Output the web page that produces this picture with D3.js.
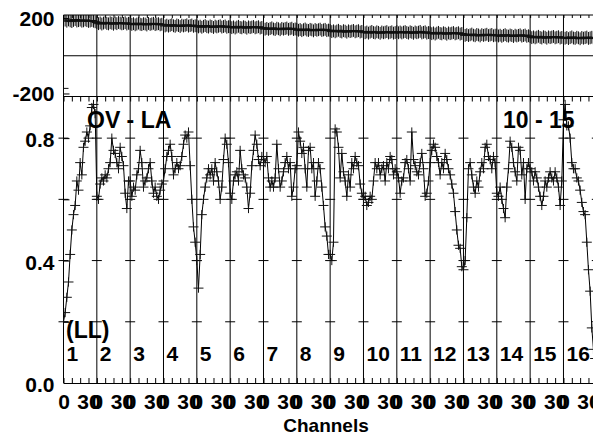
<!DOCTYPE html>
<html><head><meta charset="utf-8">
<script src="https://cdn.jsdelivr.net/npm/d3@7"></script>
<style>
html,body{margin:0;padding:0;background:#fff;}
svg{display:block;}
text{font-family:"Liberation Sans",Arial,Helvetica,sans-serif;font-weight:bold;fill:#000;}
</style></head>
<body>
<svg id="chart" width="593" height="437"></svg>
<script>
// ---------- DATA ----------
const ifLabels = ["1","2","3","4","5","6","7","8","9","10","11","12","13","14","15","16"];
const channelsPerIF = 40;
const channels = [0,2,4,6,8,10,12,14,16,18,20,22,24,26,28,30,32,34,36,38];
const xTickChannels = [0,10,20,30];
const xTickLabels = {0:"0",30:"30"};
const phaseTicks = [-200,200];
const ampTicks = [0,0.2,0.4,0.6,0.8];
const ampLabelled = [0,0.4,0.8];
const baselineName = "OV - LA";
const timeLabel = "10 - 15";
const polLabel = "(LL)";
const xTitle = "Channels";
const ampErr = 0.015;
const phaseErr = 34;

const ampIF1  = [0.20,0.23,0.28,0.33,0.42,0.50,0.55,0.58,0.66,0.63,0.72,0.68,0.77,0.79,0.82,0.80,0.84,0.90,0.91,0.88];
const ampIF2  = [0.61,0.60,0.65,0.67,0.66,0.68,0.67,0.70,0.72,0.80,0.76,0.75,0.72,0.70,0.77,0.74,0.71,0.62,0.57,0.66];
const ampIF3  = [0.66,0.61,0.64,0.63,0.68,0.70,0.76,0.72,0.64,0.66,0.67,0.70,0.72,0.66,0.62,0.64,0.61,0.60,0.63,0.65];
const ampIF4  = [0.66,0.70,0.74,0.76,0.78,0.74,0.68,0.70,0.72,0.70,0.71,0.74,0.78,0.81,0.80,0.82,0.71,0.60,0.51,0.46];
const ampIF5  = [0.40,0.31,0.42,0.55,0.60,0.64,0.67,0.70,0.68,0.70,0.66,0.72,0.69,0.66,0.60,0.64,0.73,0.80,0.78,0.72];
const ampIF6  = [0.62,0.60,0.66,0.68,0.69,0.66,0.76,0.70,0.68,0.67,0.64,0.57,0.62,0.71,0.76,0.81,0.78,0.73,0.71,0.74];
const ampIF7  = [0.74,0.72,0.74,0.67,0.64,0.66,0.64,0.67,0.78,0.70,0.64,0.66,0.69,0.72,0.74,0.70,0.72,0.61,0.64,0.70];
const ampIF8  = [0.71,0.82,0.79,0.75,0.77,0.70,0.64,0.76,0.77,0.70,0.72,0.61,0.66,0.72,0.70,0.64,0.58,0.51,0.48,0.42];
const ampIF9  = [0.42,0.40,0.46,0.83,0.82,0.77,0.67,0.75,0.69,0.66,0.61,0.68,0.64,0.72,0.70,0.74,0.72,0.71,0.65,0.62];
const ampIF10 = [0.60,0.61,0.58,0.59,0.61,0.60,0.66,0.72,0.70,0.72,0.68,0.70,0.71,0.66,0.72,0.70,0.74,0.73,0.68,0.70];
const ampIF11 = [0.69,0.67,0.62,0.66,0.67,0.72,0.73,0.70,0.66,0.82,0.73,0.71,0.69,0.68,0.72,0.75,0.70,0.61,0.62,0.66];
const ampIF12 = [0.72,0.76,0.78,0.77,0.74,0.72,0.68,0.72,0.70,0.75,0.73,0.70,0.68,0.65,0.62,0.56,0.50,0.45,0.44,0.38];
const ampIF13 = [0.37,0.40,0.54,0.70,0.72,0.68,0.64,0.62,0.66,0.64,0.69,0.72,0.70,0.77,0.78,0.74,0.73,0.70,0.74,0.72];
const ampIF14 = [0.62,0.61,0.64,0.60,0.57,0.54,0.64,0.70,0.79,0.77,0.72,0.69,0.66,0.77,0.76,0.68,0.72,0.60,0.70,0.72];
const ampIF15 = [0.70,0.69,0.66,0.69,0.67,0.64,0.61,0.58,0.61,0.66,0.64,0.67,0.69,0.67,0.66,0.69,0.67,0.64,0.58,0.66];
const ampIF16 = [0.86,0.91,0.84,0.84,0.80,0.72,0.70,0.70,0.67,0.66,0.63,0.59,0.56,0.55,0.46,0.37,0.30,0.18,0.11,0.08];

const phsIF1  = [-173,189,183,190,185,181,187,192,184,186,189,183,185,190,186,182,184,187,183,180];
const phsIF2  = [176,170,174,168,173,177,171,169,175,172,167,174,170,176,173,169,171,175,168,172];
const phsIF3  = [171,166,170,164,168,173,167,165,170,168,163,171,166,169,172,165,168,170,164,167];
const phsIF4  = [164,158,162,157,161,165,159,156,163,160,155,162,158,161,164,157,160,163,156,159];
const phsIF5  = [158,153,157,151,156,160,154,152,158,155,150,157,153,156,159,152,155,158,151,154];
const phsIF6  = [154,149,153,147,152,156,150,148,154,151,146,153,149,152,155,148,151,154,147,150];
const phsIF7  = [147,141,145,140,144,148,142,139,146,143,138,145,141,144,147,140,143,146,139,142];
const phsIF8  = [140,135,139,133,138,142,136,134,140,137,132,139,135,138,141,134,137,140,133,136];
const phsIF9  = [134,128,132,127,131,135,129,126,133,130,125,132,128,131,134,127,130,133,126,129];
const phsIF10 = [127,122,126,120,125,129,123,121,127,124,119,126,122,125,128,121,124,127,120,123];
const phsIF11 = [128,122,126,121,125,128,123,120,127,124,119,126,122,125,129,121,124,127,120,123];
const phsIF12 = [122,117,121,115,120,124,118,116,122,119,114,121,117,120,123,116,119,122,115,118];
const phsIF13 = [114,108,112,107,111,115,109,106,113,110,105,112,108,111,114,107,110,113,106,109];
const phsIF14 = [110,105,109,103,108,112,106,104,110,107,102,109,105,108,111,104,107,110,103,106];
const phsIF15 = [102,96,100,95,99,103,97,94,101,98,93,100,96,99,102,95,98,101,94,97];
const phsIF16 = [98,93,97,91,96,100,94,92,98,95,90,97,93,96,99,92,95,98,91,94];

const ampSeries = [ampIF1,ampIF2,ampIF3,ampIF4,ampIF5,ampIF6,ampIF7,ampIF8,ampIF9,ampIF10,ampIF11,ampIF12,ampIF13,ampIF14,ampIF15,ampIF16];
const phsSeries = [phsIF1,phsIF2,phsIF3,phsIF4,phsIF5,phsIF6,phsIF7,phsIF8,phsIF9,phsIF10,phsIF11,phsIF12,phsIF13,phsIF14,phsIF15,phsIF16];

// ---------- LAYOUT ----------
const svg = d3.select("#chart");
const left = 63.5, right = 596.8;
const phTop = 15, phBot = 96.5, ampBot = 383;
const nIF = ifLabels.length;

const x = d3.scaleLinear().domain([0, nIF*channelsPerIF]).range([left, right]);
const yPh = d3.scaleLinear().domain([-216, 216]).range([phBot, phTop]);
const yAmp = d3.scaleLinear().domain([0, 0.936]).range([ampBot, phBot]);

const ampPts = [], phsPts = [];
ampSeries.forEach((arr, b) => arr.forEach((v, i) => ampPts.push({c: b*channelsPerIF + channels[i], v})));
phsSeries.forEach((arr, b) => arr.forEach((v, i) => phsPts.push({c: b*channelsPerIF + channels[i], v})));

const allTicks = [];
for (let b = 0; b <= nIF; b++) xTickChannels.forEach(t => { if (b < nIF || t === 0) allTicks.push(b*channelsPerIF + t); });
const bounds = d3.range(nIF + 1).map(b => b*channelsPerIF);

// clip paths
const defs = svg.append("defs");
defs.append("clipPath").attr("id","clipPh").append("rect")
  .attr("x", left).attr("y", phTop).attr("width", right-left).attr("height", phBot-phTop);
defs.append("clipPath").attr("id","clipAmp").append("rect")
  .attr("x", left).attr("y", phBot).attr("width", right-left).attr("height", ampBot-phBot);

// frame lines
svg.append("line").attr("x1", left).attr("x2", right).attr("y1", phTop).attr("y2", phTop).attr("stroke","#000");
svg.append("line").attr("x1", left).attr("x2", right).attr("y1", phBot).attr("y2", phBot).attr("stroke","#000");
svg.append("line").attr("x1", left).attr("x2", right).attr("y1", yPh(0)).attr("y2", yPh(0)).attr("stroke","#000");

// IF boundaries
svg.append("g").selectAll("line").data(bounds).join("line")
  .attr("x1", d => x(d)).attr("x2", d => x(d)).attr("y1", phTop).attr("y2", ampBot)
  .attr("stroke","#000").attr("stroke-width",1);

// cross ticks at boundaries on amplitude panel
const crossTicks = [];
bounds.forEach(bd => ampTicks.filter(t => t > 0).forEach(t => crossTicks.push({bd, t})));
svg.append("g").selectAll("line").data(crossTicks).join("line")
  .attr("x1", d => x(d.bd) - 5).attr("x2", d => x(d.bd) + 5)
  .attr("y1", d => yAmp(d.t)).attr("y2", d => yAmp(d.t)).attr("stroke","#000");

// top minor ticks
svg.append("g").attr("transform", `translate(0,${phTop})`)
  .call(d3.axisTop(x).tickValues(allTicks).tickSizeInner(-3).tickSizeOuter(0).tickFormat(""))
  .call(g => g.select(".domain").remove());
svg.append("g").attr("transform", `translate(0,${phBot})`)
  .call(d3.axisTop(x).tickValues(allTicks).tickSizeInner(-5).tickSizeOuter(0).tickFormat(""))
  .call(g => g.select(".domain").remove());

// bottom axis
const xAxis = svg.append("g").attr("transform", `translate(0,${ampBot})`)
  .call(d3.axisBottom(x).tickValues(allTicks).tickSizeInner(-5).tickSizeOuter(0).tickPadding(11)
    .tickFormat(d => xTickLabels[d % channelsPerIF] || ""));
xAxis.selectAll("text").style("font-size","21px");

// left axes
const phAxis = svg.append("g").attr("transform", `translate(${left},0)`)
  .call(d3.axisLeft(yPh).tickValues(phaseTicks).tickSizeInner(-6).tickSizeOuter(0).tickPadding(9).tickFormat(d => String(d)));
phAxis.selectAll("text").style("font-size","21px").attr("dy","0.34em");
phAxis.select(".domain").attr("d", `M0,${phTop}V${phBot}`);

const ampAxis = svg.append("g").attr("transform", `translate(${left},0)`)
  .call(d3.axisLeft(yAmp).tickValues(ampTicks).tickSizeInner(-6).tickSizeOuter(0).tickPadding(9)
    .tickFormat(d => ampLabelled.includes(d) ? d.toFixed(1) : ""));
ampAxis.selectAll("text").style("font-size","21px").attr("dy","0.42em");
ampAxis.select(".domain").attr("d", `M0,${phBot}V${ampBot}`);

svg.selectAll(".tick line, .domain").attr("stroke","#000");

// phase crosses
const gPh = svg.append("g").attr("clip-path","url(#clipPh)");
gPh.append("path")
  .attr("d", phsPts.map(p => {
    const px = x(p.c), py = yPh(p.v);
    return `M${px-5},${py}H${px+5}M${px},${yPh(p.v+phaseErr)}V${yPh(p.v-phaseErr)}`;
  }).join(""))
  .attr("fill","none").attr("stroke","#111").attr("stroke-width",1);

// amplitude line + crosses
const gAmp = svg.append("g").attr("clip-path","url(#clipAmp)");
gAmp.append("path").datum(ampPts)
  .attr("d", d3.line().x(p => x(p.c)).y(p => yAmp(p.v)))
  .attr("fill","none").attr("stroke","#000").attr("stroke-width",1);
gAmp.append("path")
  .attr("d", ampPts.map(p => {
    const px = x(p.c), py = yAmp(p.v);
    return `M${px-5},${py}H${px+5}M${px},${yAmp(p.v+ampErr)}V${yAmp(p.v-ampErr)}`;
  }).join(""))
  .attr("fill","none").attr("stroke","#111").attr("stroke-width",1);

// labels
svg.append("text").attr("x", 87).attr("y", 128).style("font-size","23px").text(baselineName);
svg.append("text").attr("x", 503).attr("y", 128).style("font-size","23px").text(timeLabel);
svg.append("text").attr("x", 66).attr("y", 338).style("font-size","23px").text(polLabel);
svg.append("g").selectAll("text").data(ifLabels).join("text")
  .attr("x", (d, i) => x(i*channelsPerIF) + 3).attr("y", 361)
  .style("font-size","21px").text(d => d);
svg.append("text").attr("x", 326).attr("y", 432).attr("text-anchor","middle")
  .style("font-size","19px").text(xTitle);
</script>
</body></html>
